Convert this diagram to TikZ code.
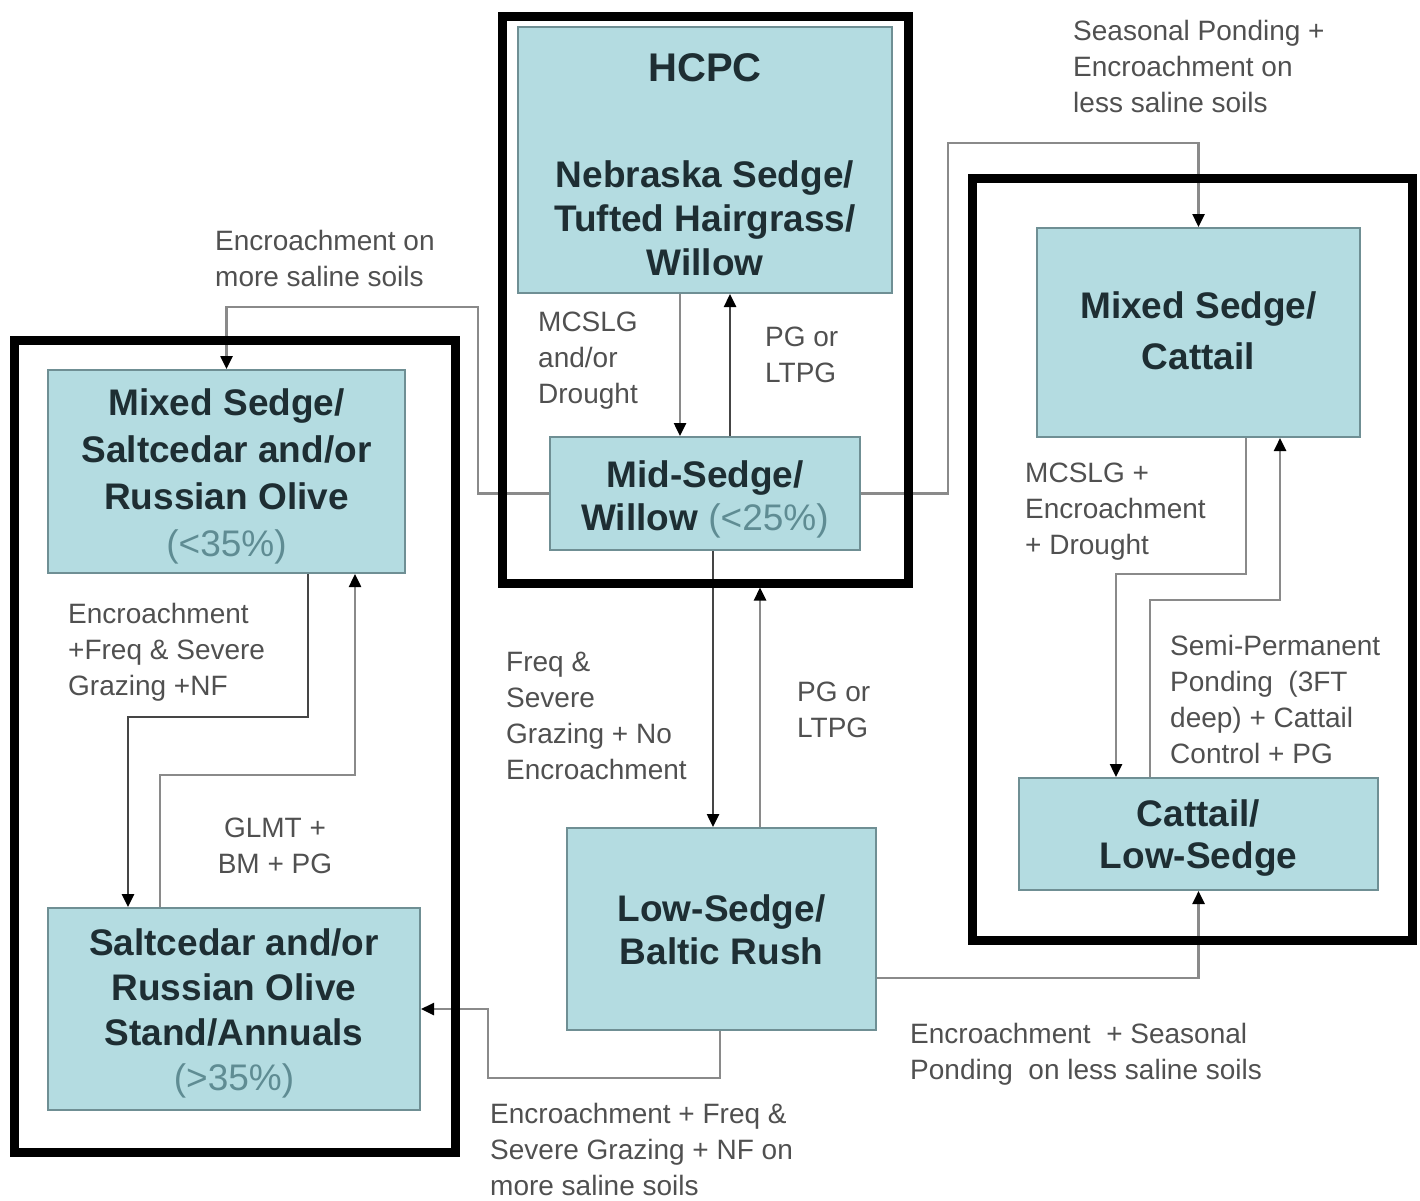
\documentclass[tikz,border=0pt]{standalone}
\usepackage{fontspec}
\setmainfont{Liberation Sans}
\usetikzlibrary{arrows.meta}
\definecolor{boxfill}{HTML}{B4DCE1}
\definecolor{boxline}{HTML}{6F8F94}
\definecolor{boxtext}{HTML}{1E2E33}
\definecolor{pct}{HTML}{5F8C93}
\definecolor{lbl}{HTML}{505050}
\definecolor{connc}{HTML}{8A8A8A}
\definecolor{conndk}{HTML}{454545}
\pgfdeclarelayer{back}
\pgfsetlayers{back,main}
\begin{document}
\begin{tikzpicture}[x=1pt,y=-1pt,
  state/.style={draw=boxline,line width=2pt,fill=boxfill,inner sep=0pt},
  stxt/.style={inner sep=0pt,align=center,text=boxtext,font=\fontsize{37}{#1}\selectfont\bfseries},
  stxt/.default=45,
  frame/.style={draw=black,line width=9pt,inner sep=0pt},
  lab/.style={inner sep=0pt,align=left,text=lbl,font=\fontsize{28}{36}\selectfont,anchor=north west},
  conn/.style={draw=connc,line width=2.5pt,-{Triangle[length=13pt,width=12pt,color=black]}},
  conndark/.style={conn,draw=conndk}
]
\useasboundingbox (0,0) rectangle (1420,1200);

% frames
\node[frame,minimum width=406pt,minimum height=567pt] (fA) at (705,299.5) {};
\node[frame,minimum width=441pt,minimum height=812pt] (fB) at (234.5,746) {};
\node[frame,minimum width=440pt,minimum height=762pt] (fC) at (1192,559) {};

% states
\node[state,minimum width=374pt,minimum height=266pt] (hcpc) at (705,160) {};
\node[state,minimum width=310pt,minimum height=113pt] (mid) at (705,493.5) {};
\node[state,minimum width=357pt,minimum height=203pt] (ms) at (226.5,471.5) {};
\node[state,minimum width=372pt,minimum height=202pt] (salt) at (234,1009) {};
\node[state,minimum width=309pt,minimum height=202pt] (low) at (721.5,929) {};
\node[state,minimum width=323pt,minimum height=209pt] (mc) at (1198.5,332.5) {};
\node[state,minimum width=359pt,minimum height=112pt] (cl) at (1198.5,834) {};

% state texts
\node[stxt=44] (hcpc-t) at ([yshift=-5pt]hcpc.center)
  {{\fontsize{40}{44}\selectfont HCPC}\\[62pt]Nebraska Sedge/\\Tufted Hairgrass/\\Willow};
\node[stxt=43] (mid-t) at ([yshift=-6pt]mid.center)
  {Mid-Sedge/\\Willow {\mdseries\color{pct}(<25\%)}};
\node[stxt=47] (ms-t) at ([yshift=-5pt]ms.center)
  {Mixed Sedge/\\Saltcedar and/or\\Russian Olive\\{\mdseries\color{pct}(<35\%)}};
\node[stxt=45] (salt-t) at ([yshift=-4pt]salt.center)
  {Saltcedar and/or\\Russian Olive\\Stand/Annuals\\{\mdseries\color{pct}(>35\%)}};
\node[stxt=43] (low-t) at ([yshift=-1pt]low.center)
  {Low-Sedge/\\Baltic Rush};
\node[stxt=51] (mc-t) at ([yshift=2pt]mc.center)
  {Mixed Sedge/\\Cattail};
\node[stxt=42] (cl-t) at ([yshift=-4pt]cl.center)
  {Cattail/\\Low-Sedge};

% labels
\node[lab] (l1) at (215,230) {Encroachment on\\more saline soils};
\node[lab] (l2) at (1073,20) {Seasonal Ponding +\\Encroachment on\\less saline soils};
\node[lab] (l3) at (538,312) {MCSLG\\and/or\\Drought};
\node[lab] (l4) at (765,327) {PG or\\LTPG};
\node[lab] (l5) at (68,603) {Encroachment\\+Freq \& Severe\\Grazing +NF};
\node[lab,anchor=north,align=center] (l6) at (275,818) {GLMT +\\BM + PG};
\node[lab] (l7) at (506,652) {Freq \&\\Severe\\Grazing + No\\Encroachment};
\node[lab] (l8) at (797,682) {PG or\\LTPG};
\node[lab] (l9) at (1025,463) {MCSLG +\\Encroachment\\+ Drought};
\node[lab] (l10) at (1170,635) {Semi-Permanent\\Ponding\ \ (3FT\\deep) + Cattail\\Control + PG};
\node[lab] (l11) at (910,1023) {Encroachment\ \ + Seasonal\\Ponding\ \ on less saline soils};
\node[lab] (l12) at (490,1103) {Encroachment + Freq \&\\Severe Grazing + NF on\\more saline soils};

% connectors
\begin{pgfonlayer}{back}
\draw[conn] ([xshift=-25pt]hcpc.south) -- ([xshift=-25pt]mid.north);
\draw[conndark] ([xshift=25pt]mid.north) -- ([xshift=25pt]hcpc.south);
\draw[conn] (mid.west) -| (478,307) -| (ms.north);
\draw[conn] (mid.east) -| (948,143) -| (mc.north);
\draw[conndark] ([xshift=8pt]mid.south) -- ([xshift=8pt]mid.south |- low.north);
\draw[conn] (low.north -| 760,0) -- (fA.south -| 760,0);
\draw[conndark] (ms.south -| 308,0) |- (128,717) -- (salt.north -| 128,0);
\draw[conn] (salt.north -| 160,0) |- (355,775) -- (ms.south -| 355,0);
\draw[conn] (low.south -| 720,0) |- (488,1078) |- (salt.east);
\draw[conn] (low.east |- 0,978) -| (cl.south);
\draw[conn] (mc.south -| 1246,0) |- (1116,574) -- (cl.north -| 1116,0);
\draw[conn] (cl.north -| 1150,0) |- (1280,600) -- (mc.south -| 1280,0);
\end{pgfonlayer}
\end{tikzpicture}
\end{document}
